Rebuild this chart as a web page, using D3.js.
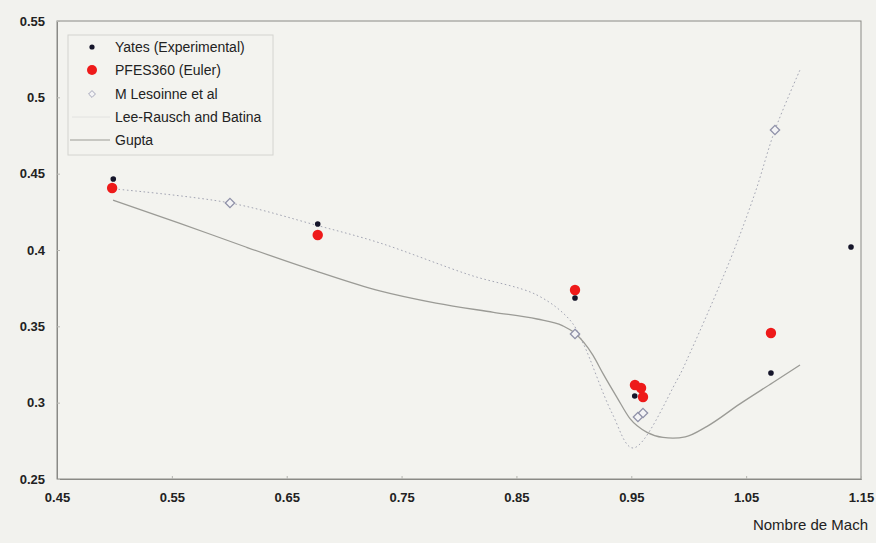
<!DOCTYPE html>
<html>
<head>
<meta charset="utf-8">
<script src="https://cdn.jsdelivr.net/npm/d3@7"></script>
<style>
  html, body { margin: 0; padding: 0; background: #f2f2ee; }
  svg { display: block; }
</style>
</head>
<body>
<script>
// Mach number vs coefficient: experiment, Euler solver and reference computations
const xTicks = [0.45, 0.55, 0.65, 0.75, 0.85, 0.95, 1.05, 1.15];
const yTicks = [0.25, 0.3, 0.35, 0.4, 0.45, 0.5, 0.55];

const yatesMach = [0.499, 0.677, 0.901, 0.953, 1.0716, 1.1413];
const yatesVal  = [0.4465, 0.417, 0.3686, 0.3044, 0.3194, 0.402];

const pfesMach = [0.498, 0.677, 0.901, 0.9532, 0.9585, 0.9602, 1.0716];
const pfesVal  = [0.4406, 0.4098, 0.3738, 0.3116, 0.3096, 0.3037, 0.3456];

const lesoMach = [0.6006, 0.901, 0.9558, 0.9602, 1.0751];
const lesoVal  = [0.4308, 0.345, 0.2906, 0.2932, 0.4786];

const leeMach = [0.5, 0.6006, 0.677, 0.7312, 0.8096, 0.8679, 0.8966, 0.908, 0.9332, 0.9515, 0.9898, 1.0011, 1.036, 1.0577, 1.0751, 1.0969];
const leeVal  = [0.44, 0.4308, 0.416, 0.4046, 0.3836, 0.3705, 0.3541, 0.339, 0.2932, 0.2703, 0.3148, 0.3325, 0.3934, 0.4373, 0.4786, 0.518];

const guptaMach = [0.4988, 0.557, 0.615, 0.673, 0.731, 0.78, 0.83, 0.868, 0.89, 0.901, 0.9167, 0.9254, 0.9375, 0.9489, 0.9637, 0.9776, 0.9863, 0.997, 1.016, 1.0446, 1.0734, 1.0969];
const guptaVal  = [0.4327, 0.4175, 0.4018, 0.3868, 0.3732, 0.3652, 0.3592, 0.3548, 0.3505, 0.3455, 0.331, 0.319, 0.3035, 0.2895, 0.2805, 0.2772, 0.2768, 0.2776, 0.2845, 0.2992, 0.3132, 0.3247];

const legendLabels = ["Yates (Experimental)", "PFES360 (Euler)", "M Lesoinne et al", "Lee-Rausch and Batina", "Gupta"];

const W = 876, H = 543;
const svg = d3.select("body").append("svg").attr("width", W).attr("height", H);

const x = d3.scaleLinear().domain([0.45, 1.15]).range([57, 861]);
const y = d3.scaleLinear().domain([0.25, 0.55]).range([479, 21]);

const frame = "#8a8a86";
const labelFont = "Liberation Sans, Arial, sans-serif";

// plot frame
svg.append("rect")
  .attr("x", x(0.45)).attr("y", y(0.55))
  .attr("width", x(1.15) - x(0.45)).attr("height", y(0.25) - y(0.55))
  .attr("fill", "#f3f3ef").attr("stroke", frame).attr("stroke-width", 1);

// axes
const xAxis = d3.axisBottom(x).tickValues(xTicks).tickSize(-3).tickPadding(14)
  .tickFormat(d => d3.format(".2f")(d));
const yAxis = d3.axisLeft(y).tickValues(yTicks).tickSize(-3).tickPadding(12)
  .tickFormat(d => (Math.round(d * 100) % 10 === 0) ? d3.format(".1f")(d) : d3.format(".2f")(d));

const gx = svg.append("g").attr("transform", `translate(0,${y(0.25)})`).call(xAxis);
const gy = svg.append("g").attr("transform", `translate(${x(0.45)},0)`).call(yAxis);
[gx, gy].forEach(g => {
  g.select(".domain").attr("stroke", frame);
  g.selectAll(".tick line").attr("stroke", "#b5b5b0");
  g.selectAll(".tick text")
    .attr("font-family", labelFont).attr("font-weight", "bold")
    .attr("font-size", 13).attr("fill", "#222");
});

svg.append("text")
  .attr("x", 868).attr("y", 530).attr("text-anchor", "end")
  .attr("font-family", labelFont).attr("font-size", 15).attr("fill", "#222")
  .text("Nombre de Mach");

// curves
const line = d3.line().x(d => x(d[0])).y(d => y(d[1])).curve(d3.curveCatmullRom.alpha(0.5));
const smooth = d3.line().x(d => x(d[0])).y(d => y(d[1])).curve(d3.curveMonotoneX);

svg.append("path")
  .datum(leeMach.map((m, i) => [m, leeVal[i]]))
  .attr("d", line).attr("fill", "none")
  .attr("stroke", "#a3a5b3").attr("stroke-width", 1)
  .attr("stroke-dasharray", "1.6,2.6");

svg.append("path")
  .datum(guptaMach.map((m, i) => [m, guptaVal[i]]))
  .attr("d", smooth).attr("fill", "none")
  .attr("stroke", "#9b9b96").attr("stroke-width", 1.3);

// markers
const diamond = d3.symbol().type(d3.symbolDiamond2).size(55);
svg.append("g").selectAll("path")
  .data(lesoMach.map((m, i) => [m, lesoVal[i]]))
  .join("path")
  .attr("d", diamond)
  .attr("transform", d => `translate(${x(d[0])},${y(d[1])})`)
  .attr("fill", "#f3f3f5").attr("stroke", "#8f91a8").attr("stroke-width", 1.3);

svg.append("g").selectAll("circle")
  .data(pfesMach.map((m, i) => [m, pfesVal[i]]))
  .join("circle")
  .attr("cx", d => x(d[0])).attr("cy", d => y(d[1])).attr("r", 5.2)
  .attr("fill", "#ee1a1a");

svg.append("g").selectAll("circle")
  .data(yatesMach.map((m, i) => [m, yatesVal[i]]))
  .join("circle")
  .attr("cx", d => x(d[0])).attr("cy", d => y(d[1])).attr("r", 2.8)
  .attr("fill", "#15152a");

// legend
const lg = svg.append("g");
lg.append("rect").attr("x", 68).attr("y", 35).attr("width", 205).attr("height", 120)
  .attr("fill", "#f3f3ef").attr("stroke", "#d4d4d0").attr("stroke-width", 1);
const rowY = [47, 70, 94, 117, 140];
lg.selectAll("text").data(legendLabels).join("text")
  .attr("x", 115).attr("y", (d, i) => rowY[i]).attr("dy", "0.35em")
  .attr("font-family", labelFont).attr("font-size", 14).attr("fill", "#222")
  .text(d => d);
lg.append("circle").attr("cx", 92).attr("cy", rowY[0]).attr("r", 2.6).attr("fill", "#15152a");
lg.append("circle").attr("cx", 92).attr("cy", rowY[1]).attr("r", 5).attr("fill", "#ee1a1a");
lg.append("path").attr("d", d3.symbol().type(d3.symbolDiamond2).size(30))
  .attr("transform", `translate(92,${rowY[2]})`)
  .attr("fill", "#f3f3f5").attr("stroke", "#a5a7ba").attr("stroke-width", 1);
lg.append("line").attr("x1", 72).attr("x2", 110).attr("y1", rowY[3]).attr("y2", rowY[3])
  .attr("stroke", "#e2e2e0").attr("stroke-width", 1);
lg.append("line").attr("x1", 70).attr("x2", 110).attr("y1", rowY[4]).attr("y2", rowY[4])
  .attr("stroke", "#9b9b96").attr("stroke-width", 1.2);
</script>
</body>
</html>
